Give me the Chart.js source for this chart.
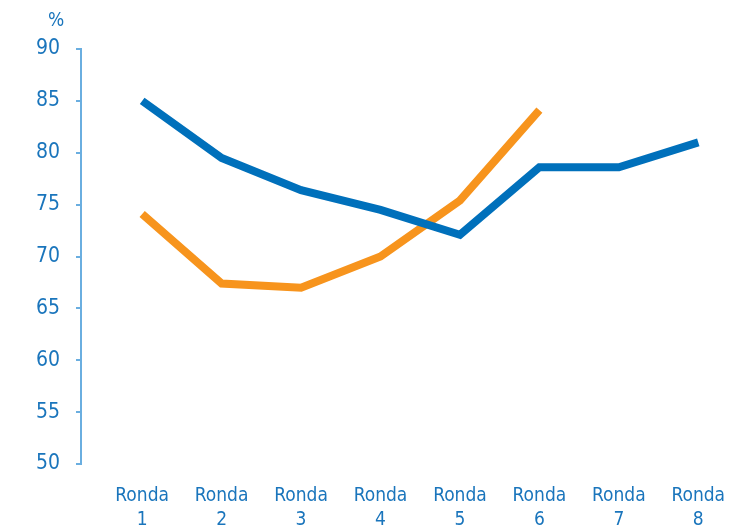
<!DOCTYPE html>
<html>
<head>
<meta charset="utf-8">
<script src="https://cdn.jsdelivr.net/npm/chart.js@4"></script>
<style>
  html, body { margin: 0; padding: 0; background: #fff; }
  #wrap { width: 747px; height: 532px; }
</style>
</head>
<body>
<div id="wrap"><canvas id="chart"></canvas></div>
<script>
// Rondas 1..8, valores en %
const rondas = [1, 2, 3, 4, 5, 6, 7, 8];
const serieAzul = [85.0, 79.5, 76.4, 74.5, 72.1, 78.6, 78.6, 81.0];
const serieNaranja = [74.1, 67.4, 67.0, 70.0, 75.4, 84.1];
const yTicks = [50, 55, 60, 65, 70, 75, 80, 85, 90];

const azul = '#0070bb';
const naranja = '#f7941d';
const texto = '#1a75bc';
const eje = '#6aaee0';
const fuente = "'DejaVu Sans Condensed', 'Liberation Sans', sans-serif";

const toPoints = vals => vals.map((v, i) => ({ x: rondas[i], y: v }));

// "%" encima del eje y
const unidadPlugin = {
    id: 'unidad',
    afterDraw(chart) {
        const { ctx, scales } = chart;
        ctx.save();
        ctx.fillStyle = texto;
        ctx.font = '19px ' + fuente;
        ctx.textAlign = 'center';
        ctx.textBaseline = 'middle';
        ctx.fillText('%', scales.y.right - 25, scales.y.top - 28);
        ctx.restore();
    }
};

new Chart(document.getElementById('chart'), {
    type: 'line',
    data: {
        datasets: [
            { data: toPoints(serieAzul), borderColor: azul, borderWidth: 8, pointRadius: 0, tension: 0, borderCapStyle: 'butt' },
            { data: toPoints(serieNaranja), borderColor: naranja, borderWidth: 8, pointRadius: 0, tension: 0, borderCapStyle: 'butt' }
        ]
    },
    options: {
        responsive: true, maintainAspectRatio: false, animation: false,
        layout: { padding: { top: 49, right: 9, left: 0, bottom: 0 } },
        plugins: { legend: { display: false }, tooltip: { enabled: false } },
        scales: {
            x: {
                type: 'linear', min: 0.23, max: 8.5,
                afterBuildTicks: s => { s.ticks = rondas.map(v => ({ value: v })); },
                afterFit: s => { s.height = 68; s.paddingLeft = 0; s.paddingRight = 0; },
                grid: { display: false, drawTicks: false },
                border: { display: false },
                ticks: {
                    padding: 20, maxRotation: 0, autoSkip: false,
                    color: texto, font: { family: fuente, size: 19, lineHeight: 1.25 },
                    callback: v => ['Ronda', String(v)]
                }
            },
            y: {
                min: 50, max: 90,
                afterBuildTicks: s => { s.ticks = yTicks.map(v => ({ value: v })); },
                afterFit: s => { s.width = 81; s.paddingTop = 0; s.paddingBottom = 0; },
                grid: { drawOnChartArea: false, drawTicks: true, tickLength: 5, color: eje, lineWidth: 2 },
                border: { display: true, color: eje, width: 2 },
                ticks: { padding: 16, color: texto, font: { family: fuente, size: 21 } }
            }
        }
    },
    plugins: [unidadPlugin]
});
</script>
</body>
</html>
